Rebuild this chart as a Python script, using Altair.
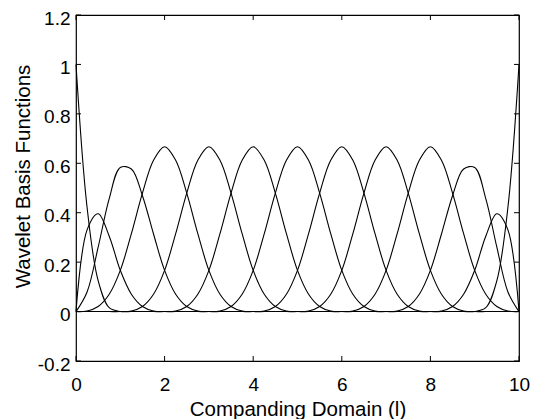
import altair as alt
import pandas as pd

# shared x grid (Companding Domain)
X = [0, 0.25, 0.5, 0.75, 1, 1.25, 1.5, 1.75, 2, 2.25, 2.5, 2.75, 3, 3.25, 3.5, 3.75,
     4, 4.25, 4.5, 4.75, 5, 5.25, 5.5, 5.75, 6, 6.25, 6.5, 6.75, 7, 7.25, 7.5, 7.75,
     8, 8.25, 8.5, 8.75, 9, 9.25, 9.5, 9.75, 10]

# basis function values read at each grid point
F01 = [1, 0.4219, 0.125, 0.0156, 0, 0, 0, 0,
       0, 0, 0, 0, 0, 0, 0, 0,
       0, 0, 0, 0, 0, 0, 0, 0,
       0, 0, 0, 0, 0, 0, 0, 0,
       0, 0, 0, 0, 0, 0, 0, 0,
       0]
F02 = [0, 0.3307, 0.3958, 0.3047, 0.1667, 0.0703, 0.0208, 0.0026,
       0, 0, 0, 0, 0, 0, 0, 0,
       0, 0, 0, 0, 0, 0, 0, 0,
       0, 0, 0, 0, 0, 0, 0, 0,
       0, 0, 0, 0, 0, 0, 0, 0,
       0]
F03 = [0, 0.0794, 0.2604, 0.457, 0.5833, 0.5768, 0.4688, 0.3138,
       0.1667, 0.0703, 0.0208, 0.0026, 0, 0, 0, 0,
       0, 0, 0, 0, 0, 0, 0, 0,
       0, 0, 0, 0, 0, 0, 0, 0,
       0, 0, 0, 0, 0, 0, 0, 0,
       0]
F04 = [0, 0.0026, 0.0208, 0.0703, 0.1667, 0.3151, 0.4792, 0.612,
       0.6667, 0.612, 0.4792, 0.3151, 0.1667, 0.0703, 0.0208, 0.0026,
       0, 0, 0, 0, 0, 0, 0, 0,
       0, 0, 0, 0, 0, 0, 0, 0,
       0, 0, 0, 0, 0, 0, 0, 0,
       0]
F05 = [0, 0, 0, 0, 0, 0.0026, 0.0208, 0.0703,
       0.1667, 0.3151, 0.4792, 0.612, 0.6667, 0.612, 0.4792, 0.3151,
       0.1667, 0.0703, 0.0208, 0.0026, 0, 0, 0, 0,
       0, 0, 0, 0, 0, 0, 0, 0,
       0, 0, 0, 0, 0, 0, 0, 0,
       0]
F06 = [0, 0, 0, 0, 0, 0, 0, 0,
       0, 0.0026, 0.0208, 0.0703, 0.1667, 0.3151, 0.4792, 0.612,
       0.6667, 0.612, 0.4792, 0.3151, 0.1667, 0.0703, 0.0208, 0.0026,
       0, 0, 0, 0, 0, 0, 0, 0,
       0, 0, 0, 0, 0, 0, 0, 0,
       0]
F07 = [0, 0, 0, 0, 0, 0, 0, 0,
       0, 0, 0, 0, 0, 0.0026, 0.0208, 0.0703,
       0.1667, 0.3151, 0.4792, 0.612, 0.6667, 0.612, 0.4792, 0.3151,
       0.1667, 0.0703, 0.0208, 0.0026, 0, 0, 0, 0,
       0, 0, 0, 0, 0, 0, 0, 0,
       0]
F08 = [0, 0, 0, 0, 0, 0, 0, 0,
       0, 0, 0, 0, 0, 0, 0, 0,
       0, 0.0026, 0.0208, 0.0703, 0.1667, 0.3151, 0.4792, 0.612,
       0.6667, 0.612, 0.4792, 0.3151, 0.1667, 0.0703, 0.0208, 0.0026,
       0, 0, 0, 0, 0, 0, 0, 0,
       0]
F09 = [0, 0, 0, 0, 0, 0, 0, 0,
       0, 0, 0, 0, 0, 0, 0, 0,
       0, 0, 0, 0, 0, 0.0026, 0.0208, 0.0703,
       0.1667, 0.3151, 0.4792, 0.612, 0.6667, 0.612, 0.4792, 0.3151,
       0.1667, 0.0703, 0.0208, 0.0026, 0, 0, 0, 0,
       0]
F10 = [0, 0, 0, 0, 0, 0, 0, 0,
       0, 0, 0, 0, 0, 0, 0, 0,
       0, 0, 0, 0, 0, 0, 0, 0,
       0, 0.0026, 0.0208, 0.0703, 0.1667, 0.3151, 0.4792, 0.612,
       0.6667, 0.612, 0.4792, 0.3151, 0.1667, 0.0703, 0.0208, 0.0026,
       0]
F11 = [0, 0, 0, 0, 0, 0, 0, 0,
       0, 0, 0, 0, 0, 0, 0, 0,
       0, 0, 0, 0, 0, 0, 0, 0,
       0, 0, 0, 0, 0, 0.0026, 0.0208, 0.0703,
       0.1667, 0.3138, 0.4688, 0.5768, 0.5833, 0.457, 0.2604, 0.0794,
       0]
F12 = [0, 0, 0, 0, 0, 0, 0, 0,
       0, 0, 0, 0, 0, 0, 0, 0,
       0, 0, 0, 0, 0, 0, 0, 0,
       0, 0, 0, 0, 0, 0, 0, 0,
       0, 0.0026, 0.0208, 0.0703, 0.1667, 0.3047, 0.3958, 0.3307,
       0]
F13 = [0, 0, 0, 0, 0, 0, 0, 0,
       0, 0, 0, 0, 0, 0, 0, 0,
       0, 0, 0, 0, 0, 0, 0, 0,
       0, 0, 0, 0, 0, 0, 0, 0,
       0, 0, 0, 0, 0, 0.0156, 0.125, 0.4219,
       1]

CURVES = [F01, F02, F03, F04, F05, F06, F07, F08, F09, F10, F11, F12, F13]

XTICKS = [0, 2, 4, 6, 8, 10]
YTICKS = [-0.2, 0, 0.2, 0.4, 0.6, 0.8, 1, 1.2]

W, H = 443, 346
FONT = "Liberation Sans"

rows = []
for k, vals in enumerate(CURVES):
    assert len(vals) == len(X)
    for xv, yv in zip(X, vals):
        rows.append({"x": xv, "y": yv, "curve": f"f{k:02d}"})
df = pd.DataFrame(rows)

xscale = alt.Scale(domain=[0, 10], nice=False, zero=False)
yscale = alt.Scale(domain=[-0.2, 1.2], nice=False, zero=False)

xaxis = alt.Axis(
    values=XTICKS, title="Companding Domain (l)", labelExpr="'' + datum.value",
    labelFlush=False, labelOverlap=False, labelBaseline="alphabetic",
    labelPadding=29, titleBaseline="alphabetic", titleY=54)
yaxis = alt.Axis(
    values=YTICKS, title="Wavelet Basis Functions", labelExpr="'' + datum.value",
    labelOverlap=False, labelFlush=False, labelPadding=6, labelOffset=3,
    titleBaseline="alphabetic", titleX=-47, titleY=161, titleAlign="center")

lines = alt.Chart(df).mark_line(
    color="black", strokeWidth=1.1, interpolate="catmull-rom"
).encode(
    x=alt.X("x:Q", scale=xscale, axis=xaxis),
    y=alt.Y("y:Q", scale=yscale, axis=yaxis),
    detail="curve:N",
)

xt = pd.DataFrame({"x": XTICKS})
yt = pd.DataFrame({"y": YTICKS})

bottom_ticks = alt.Chart(xt).mark_rule(color="black", strokeWidth=1).encode(
    x=alt.X("x:Q", scale=xscale, axis=xaxis), y=alt.value(H), y2=alt.value(H - 5))
top_ticks = alt.Chart(xt).mark_rule(color="black", strokeWidth=1).encode(
    x=alt.X("x:Q", scale=xscale, axis=xaxis), y=alt.value(0), y2=alt.value(5))
left_ticks = alt.Chart(yt).mark_rule(color="black", strokeWidth=1).encode(
    y=alt.Y("y:Q", scale=yscale, axis=yaxis), x=alt.value(0), x2=alt.value(5))
right_ticks = alt.Chart(yt).mark_rule(color="black", strokeWidth=1).encode(
    y=alt.Y("y:Q", scale=yscale, axis=yaxis), x=alt.value(W), x2=alt.value(W - 5))

chart = alt.layer(lines, bottom_ticks, top_ticks, left_ticks, right_ticks).properties(
    width=W, height=H,
    autosize=alt.AutoSizeParams(type="none"),
    padding={"left": 68, "top": 7, "right": 18, "bottom": 58},
    background="white",
).configure_view(
    stroke="black", strokeWidth=1.2
).configure_axis(
    grid=False, ticks=False, tickSize=0, domain=False,
    labelFont=FONT, labelFontSize=19, labelColor="black",
    titleFont=FONT, titleFontSize=20.5, titleFontWeight="normal", titleColor="black",
)

chart.save("out.html", embed_options={"renderer": "svg", "actions": False})
